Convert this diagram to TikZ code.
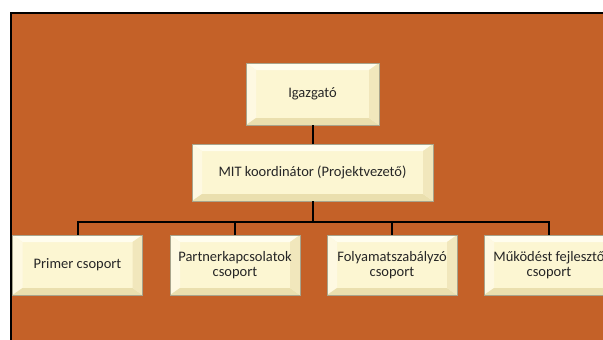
\documentclass[tikz,border=0pt]{standalone}
\usepackage{fontspec}
\setmainfont{Carlito}
\usetikzlibrary{positioning}

\definecolor{bgorange}{HTML}{C46128}
\definecolor{cream}{HTML}{FCF6D2}
\definecolor{bevlight}{HTML}{FFFDEE}
\definecolor{bevside}{HTML}{FEF9E2}
\definecolor{bevdark}{HTML}{EADFAE}
\definecolor{bevright}{HTML}{F1E7BC}
\definecolor{boxedge}{HTML}{A8A48C}
\definecolor{txt}{HTML}{262626}

\tikzset{
  orgbox/.style={draw=boxedge, line width=0.8pt, fill=cream, text=txt,
    minimum width=130pt, minimum height=60pt, align=center, inner sep=1pt,
    font=\fontsize{14.5}{15.5}\selectfont,
    path picture={
      \coordinate (nw) at (path picture bounding box.north west);
      \coordinate (ne) at (path picture bounding box.north east);
      \coordinate (sw) at (path picture bounding box.south west);
      \coordinate (se) at (path picture bounding box.south east);
      \fill[bevlight] (nw) -- (ne) -- ([xshift=-10pt,yshift=-7pt]ne) -- ([xshift=10pt,yshift=-7pt]nw) -- cycle;
      \fill[bevside] (nw) -- (sw) -- ([xshift=10pt,yshift=7pt]sw) -- ([xshift=10pt,yshift=-7pt]nw) -- cycle;
      \fill[bevdark] (sw) -- (se) -- ([xshift=-10pt,yshift=7pt]se) -- ([xshift=10pt,yshift=7pt]sw) -- cycle;
      \fill[bevright] (ne) -- (se) -- ([xshift=-10pt,yshift=7pt]se) -- ([xshift=-10pt,yshift=-7pt]ne) -- cycle;
    }},
  link/.style={line width=2pt, black}
}

\begin{document}
\begin{tikzpicture}[x=1pt, y=-1pt]
        \useasboundingbox (0,0) rectangle (603,340);
        % background panel
        \fill[white] (0,0) rectangle (603,340);
        \fill[bgorange] (11,13) rectangle (603,340);
        \draw[line width=2pt] (11,340) -- (11,13) -- (603,13);

        % top of the chart
        \node[orgbox, minimum width=133pt, minimum height=62pt] (igaz) at (312.5,94) {Igazgató};
        \node[orgbox, minimum width=241pt, minimum height=57pt] (mit) at (312.5,172.5) {MIT koordinátor (Projektvezető)};

        % groups
        \node[orgbox] (primer) at (77.5,265) {Primer csoport};
        \node[orgbox] (partner) at (235,265) {Partnerkapcsolatok\\csoport};
        \node[orgbox] (folyamat) at (392,265) {Folyamatszabályzó\\csoport};
        \node[orgbox] (mukodes) at (549,265) {Működést fejlesztő\\csoport};

        \coordinate (bus) at (312.5,222);

        \draw[link] (igaz) -- (mit);
        \draw[link] (mit) -- (bus);
        \draw[link] (bus) -| (primer);
        \draw[link] (bus) -| (partner);
        \draw[link] (bus) -| (folyamat);
        \draw[link] (bus) -| (mukodes);
    \end{tikzpicture}
\end{document}
